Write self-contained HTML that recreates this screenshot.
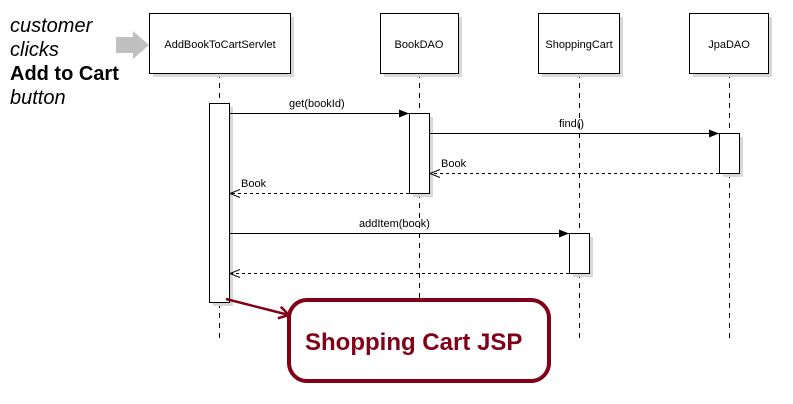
<!DOCTYPE html>
<html><head><style>body{margin:0;background:#fff}svg{display:block}</style></head><body>
<svg width="793" height="404" xmlns="http://www.w3.org/2000/svg" font-family="Liberation Sans, sans-serif">
<defs>
<marker id="f" markerWidth="10" markerHeight="8" refX="10" refY="4" orient="auto" markerUnits="userSpaceOnUse"><path d="M0,0 L10,4 L0,8 z" fill="#000"/></marker>
<marker id="o" markerWidth="11" markerHeight="10" refX="10" refY="5" orient="auto" markerUnits="userSpaceOnUse"><path d="M0,1 L10,5 L0,9" fill="none" stroke="#000"/></marker>
<marker id="r" markerWidth="14" markerHeight="14" refX="12" refY="7" orient="auto" markerUnits="userSpaceOnUse"><path d="M2,1 L12,7 L2,13" fill="none" stroke="#800018" stroke-width="2.5"/></marker>
</defs>
<g font-size="20" fill="#000">
<text x="10" y="32" font-style="italic">customer</text>
<text x="10" y="56" font-style="italic">clicks</text>
<text x="10" y="80" font-weight="bold">Add to Cart</text>
<text x="10" y="104" font-style="italic">button</text>
</g>
<path d="M116,37 L133,37 L133,31 L149,45 L133,59 L133,53 L116,53 z" fill="#c0c0c0"/>
<g stroke="#000" stroke-dasharray="5,5" stroke-width="1">
<line x1="219.5" y1="73" x2="219.5" y2="340"/>
<line x1="419.5" y1="73" x2="419.5" y2="300"/>
<line x1="579.5" y1="73" x2="579.5" y2="340"/>
<line x1="729.5" y1="73" x2="729.5" y2="340"/>
</g>
<g fill="#d8d8d8">
<rect x="153" y="17" width="141" height="60"/><rect x="384" y="17" width="78" height="60"/>
<rect x="542" y="17" width="81" height="60"/><rect x="693" y="17" width="79" height="60"/>
<rect x="213" y="107" width="20" height="199"/><rect x="413" y="117" width="20" height="80"/>
<rect x="723" y="137" width="20" height="40"/><rect x="573" y="237" width="20" height="40"/>
</g>
<g fill="#fff" stroke="#000">
<rect x="149.5" y="13.5" width="141" height="60"/><rect x="380.5" y="13.5" width="78" height="60"/>
<rect x="538.5" y="13.5" width="81" height="60"/><rect x="689.5" y="13.5" width="79" height="60"/>
<rect x="209.5" y="103.5" width="20" height="199"/><rect x="409.5" y="113.5" width="20" height="80"/>
<rect x="719.5" y="133.5" width="20" height="40"/><rect x="569.5" y="233.5" width="20" height="40"/>
</g>
<g font-size="11" text-anchor="middle">
<text x="220" y="48">AddBookToCartServlet</text><text x="419" y="48">BookDAO</text>
<text x="579" y="48">ShoppingCart</text><text x="729" y="48">JpaDAO</text>
</g>
<g stroke="#000">
<line x1="230" y1="113.5" x2="409" y2="113.5" marker-end="url(#f)"/>
<line x1="430" y1="133.5" x2="719" y2="133.5" marker-end="url(#f)"/>
<line x1="230" y1="233.5" x2="569" y2="233.5" marker-end="url(#f)"/>
<g stroke-dasharray="3,3">
<line x1="719" y1="173.5" x2="430" y2="173.5" marker-end="url(#o)"/>
<line x1="409" y1="193.5" x2="230" y2="193.5" marker-end="url(#o)"/>
<line x1="569" y1="273.5" x2="230" y2="273.5" marker-end="url(#o)"/>
</g>
</g>
<g font-size="11">
<text x="289" y="107">get(bookId)</text><text x="559" y="127">find()</text>
<text x="441" y="167">Book</text><text x="241" y="187">Book</text>
<text x="359" y="227">addItem(book)</text>
</g>
<rect x="289" y="300" width="260" height="81" rx="18" fill="#fff" stroke="#800018" stroke-width="4"/>
<line x1="226" y1="299" x2="289" y2="315" stroke="#800018" stroke-width="2.5" marker-end="url(#r)"/>
<text x="305" y="350" font-size="24" font-weight="bold" fill="#800018">Shopping Cart JSP</text>
</svg>
</body></html>
